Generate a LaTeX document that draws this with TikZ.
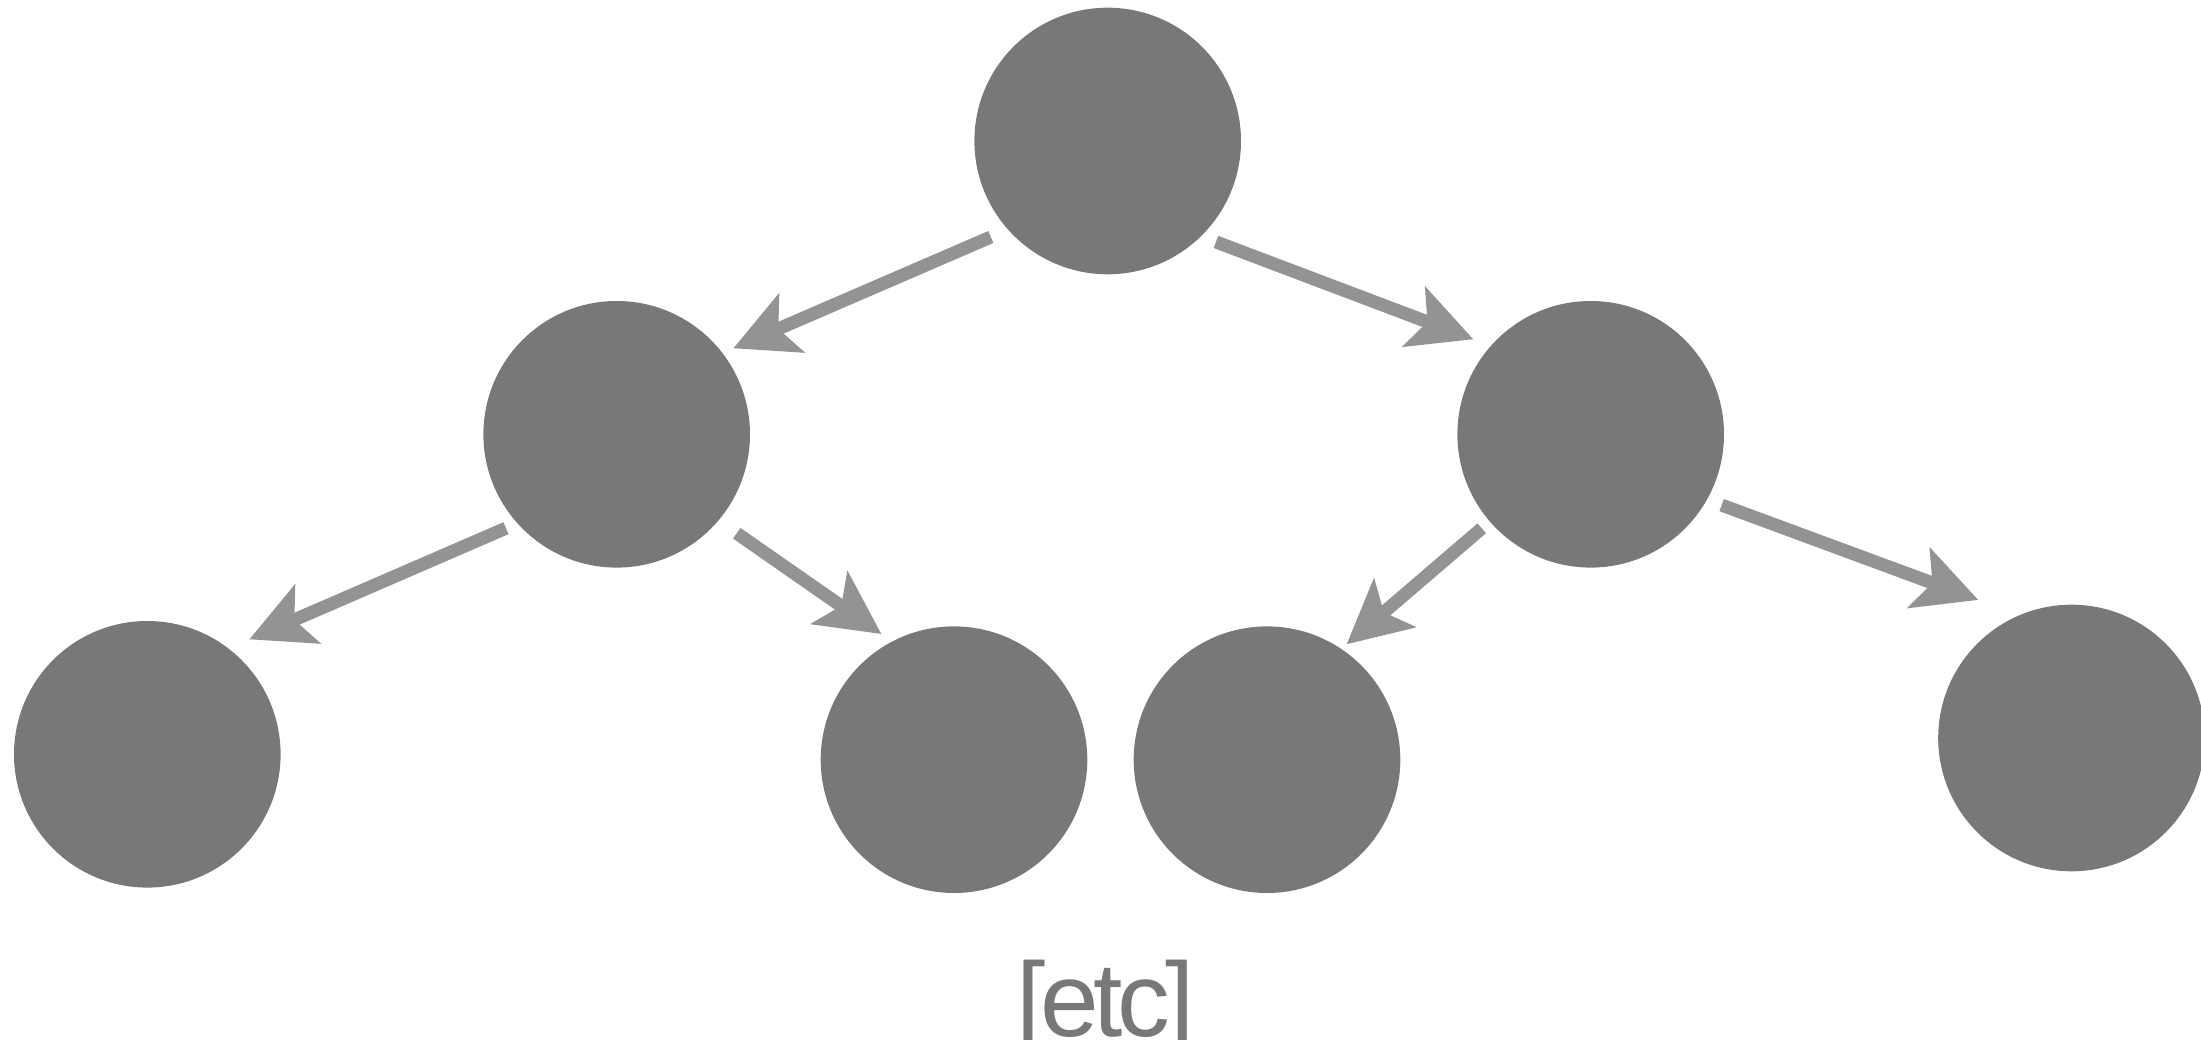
\documentclass[tikz,border=0pt]{standalone}
\usepackage{fontspec}
\setmainfont{Liberation Sans}
\newfontfamily\notefont[LetterSpace=-5]{Liberation Sans}
\usetikzlibrary{arrows.meta,calc}

\definecolor{nodegray}{HTML}{787878}
\definecolor{edgegray}{HTML}{939393}

\tikzset{
  ball/.style={circle,fill=nodegray,draw=none,inner sep=0pt,minimum size=2.666cm},
  edge/.style={draw=edgegray,line width=0.13cm,
    -{Stealth[length=0.63cm,width=0.63cm,inset=0.14cm]}}
}

\begin{document}
\begin{tikzpicture}

\useasboundingbox (0,0) rectangle (22.01,-10.40);

% Draw the nodes
\node[ball] (root) at (11.077,-1.41) {};
\node[ball] (l) at (6.167,-4.343) {};
\node[ball] (r) at (15.907,-4.343) {};
\node[ball] (ll) at (1.473,-7.543) {};
\node[ball] (lr) at (9.54,-7.597) {};
\node[ball] (rl) at (12.67,-7.597) {};
\node[ball] (rr) at (20.715,-7.38) {};

% Draw the edges
\draw[edge] ($(root)+(219.4:1.513)$) -- ($(l)+(36.4:1.449)$);
\draw[edge] ($(root)+(317:1.48)$) -- ($(r)+(141:1.51)$);
\draw[edge] ($(l)+(220.3:1.452)$) -- ($(ll)+(48.4:1.537)$);
\draw[edge] ($(l)+(320.5:1.556)$) -- ($(lr)+(120:1.451)$);
\draw[edge] ($(r)+(220.8:1.439)$) -- ($(rl)+(55.4:1.402)$);
\draw[edge] ($(r)+(331.6:1.489)$) -- ($(rr)+(124:1.665)$);

% Trailing note
\node[anchor=base,text=nodegray,inner sep=0pt,font=\notefont\fontsize{30}{32}\selectfont] (etc) at (11.053,-10.37) {[etc]};

\end{tikzpicture}
\end{document}
